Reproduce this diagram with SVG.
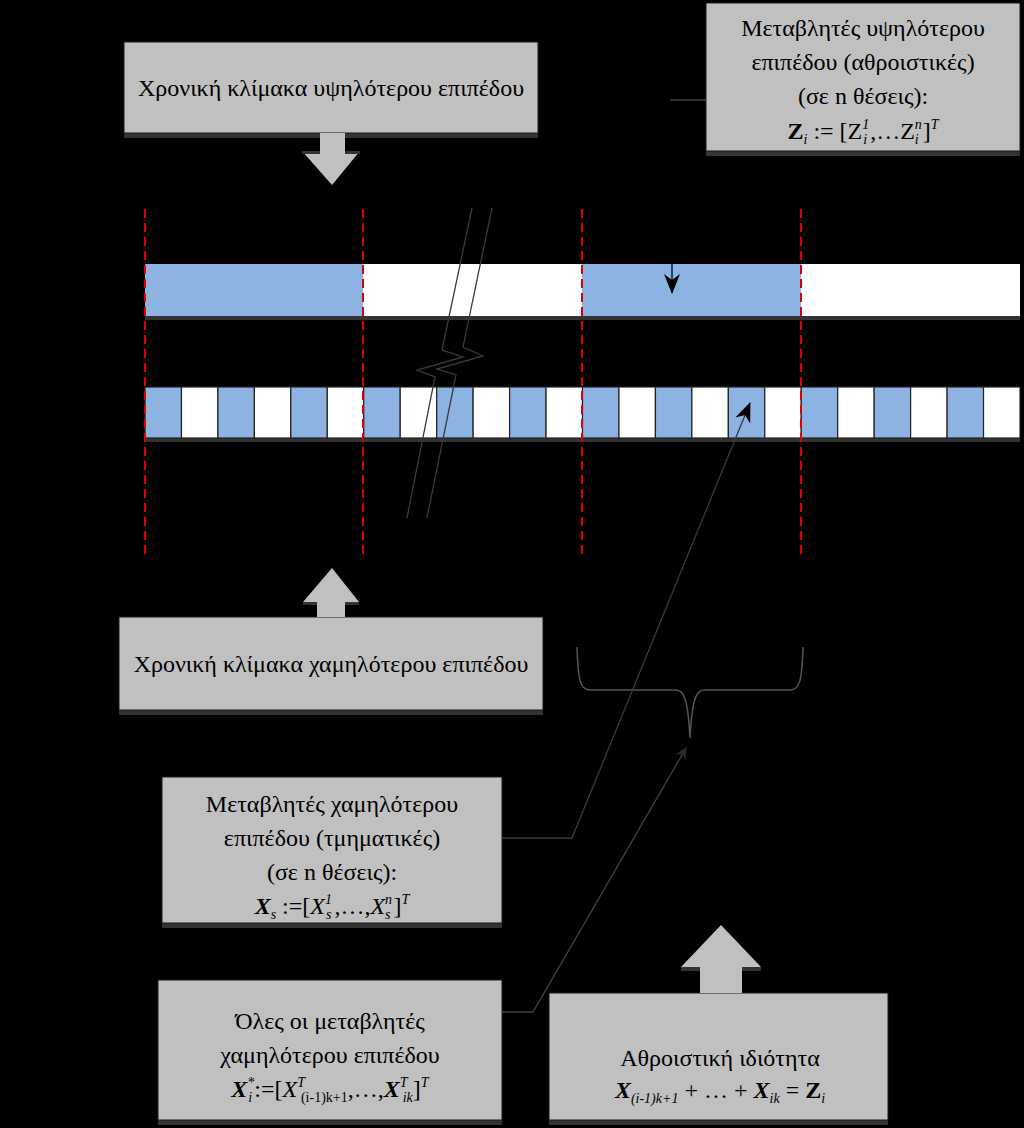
<svg xmlns="http://www.w3.org/2000/svg" width="1024" height="1128" viewBox="0 0 1024 1128">
<style>
.box{fill:#c0c0c0;stroke:#1a1a1a;stroke-width:1}
.shadow{fill:#333333}
text{font-family:'Liberation Serif','DejaVu Serif',serif;font-size:24px;fill:#000;text-anchor:middle}
.sub{font-size:14px}
.blue{fill:#8db3e2;stroke:#222;stroke-width:1.2}
.white{fill:#ffffff;stroke:#222;stroke-width:1.2}
.red{stroke:#e00000;stroke-width:2;stroke-dasharray:9 5;fill:none}
.conn{stroke:#404040;stroke-width:1.3;fill:none}
.brk{stroke:#3a3a3a;stroke-width:1.3;fill:none}
</style>
<defs>
<marker id="ah" viewBox="0 0 12 12" refX="11" refY="6" markerWidth="12" markerHeight="12" markerUnits="userSpaceOnUse" orient="auto">
<path d="M0,0 L12,6 L0,12 L4,6 z" fill="#2a2a2a"/>
</marker>
<marker id="ahb" viewBox="0 0 20 16" refX="19" refY="8" markerWidth="20" markerHeight="16" markerUnits="userSpaceOnUse" orient="auto">
<path d="M0,0 L20,8 L0,16 L6,8 z" fill="#000"/>
</marker>
</defs>
<rect x="0" y="0" width="1024" height="1128" fill="#000"/>

<g id="upper-bar">
<rect x="145" y="316" width="875" height="4" class="shadow"/>
<rect x="145" y="264" width="218" height="52" fill="#8db3e2"/>
<rect x="363" y="264" width="219" height="52" fill="#ffffff"/>
<rect x="582" y="264" width="219" height="52" fill="#8db3e2"/>
<rect x="801" y="264" width="219" height="52" fill="#ffffff"/>
</g>

<g id="lower-bar">
<rect x="145" y="438" width="875" height="4" class="shadow"/>
<rect x="145" y="387" width="36.46" height="51" class="blue"/>
<rect x="181.46" y="387" width="36.46" height="51" class="white"/>
<rect x="217.92" y="387" width="36.46" height="51" class="blue"/>
<rect x="254.38" y="387" width="36.46" height="51" class="white"/>
<rect x="290.83" y="387" width="36.46" height="51" class="blue"/>
<rect x="327.29" y="387" width="36.46" height="51" class="white"/>
<rect x="363.75" y="387" width="36.46" height="51" class="blue"/>
<rect x="400.21" y="387" width="36.46" height="51" class="white"/>
<rect x="436.67" y="387" width="36.46" height="51" class="blue"/>
<rect x="473.13" y="387" width="36.46" height="51" class="white"/>
<rect x="509.58" y="387" width="36.46" height="51" class="blue"/>
<rect x="546.04" y="387" width="36.46" height="51" class="white"/>
<rect x="582.5" y="387" width="36.46" height="51" class="blue"/>
<rect x="618.96" y="387" width="36.46" height="51" class="white"/>
<rect x="655.42" y="387" width="36.46" height="51" class="blue"/>
<rect x="691.88" y="387" width="36.46" height="51" class="white"/>
<rect x="728.33" y="387" width="36.46" height="51" class="blue"/>
<rect x="764.79" y="387" width="36.46" height="51" class="white"/>
<rect x="801.25" y="387" width="36.46" height="51" class="blue"/>
<rect x="837.71" y="387" width="36.46" height="51" class="white"/>
<rect x="874.17" y="387" width="36.46" height="51" class="blue"/>
<rect x="910.63" y="387" width="36.46" height="51" class="white"/>
<rect x="947.08" y="387" width="36.46" height="51" class="blue"/>
<rect x="983.54" y="387" width="36.46" height="51" class="white"/>
</g>

<g id="dividers">
<line x1="145" y1="209" x2="145" y2="558" class="red"/>
<line x1="363" y1="209" x2="363" y2="558" class="red"/>
<line x1="582" y1="209" x2="582" y2="558" class="red"/>
<line x1="801" y1="209" x2="801" y2="558" class="red"/>
</g>

<g id="break-mark">
<polyline class="brk" points="472,208 442,350 463,357 417,370 435,377 407,518"/>
<polyline class="brk" points="492,208 463,347 483,356 437,369 456,375 427,518"/>
</g>

<g id="brace">
<path d="M577,647 C578,680 580,690 590,690 L676,690 C684,690 688,700 690,738 C692,700 696,690 704,690 L790,690 C800,690 802,680 803,647" stroke="#555" stroke-width="1.5" fill="none"/>
</g>

<g id="node-higher-scale">
<rect x="124" y="133" width="414" height="5" class="shadow"/>
<rect x="124" y="42" width="414" height="91" class="box"/>
<path d="M320,133 L345,133 L345,151 L360,151 L332,185 L302,151 L320,151 z" fill="#c0c0c0"/>
<rect x="302" y="151" width="18" height="3" class="shadow"/>
<rect x="345" y="151" width="15" height="3" class="shadow"/>
<text x="331" y="96">Χρονική κλίμακα υψηλότερου επιπέδου</text>
</g>

<g id="node-higher-vars">
<rect x="706" y="151" width="314" height="5" class="shadow"/>
<rect x="706" y="3" width="314" height="148" class="box"/>
<text x="863" y="36">Μεταβλητές υψηλότερου</text>
<text x="863" y="70">επιπέδου (αθροιστικές)</text>
<text x="863" y="104">(σε n θέσεις):</text>
<text x="863" y="139"><tspan font-weight="bold">Z</tspan><tspan class="sub" font-style="italic" dy="5">i</tspan><tspan dy="-5"> := [Z</tspan><tspan class="sub" font-style="italic" dy="-10">1</tspan><tspan class="sub" font-style="italic" dx="-6" dy="15">i</tspan><tspan dx="3" dy="-5">,…Z</tspan><tspan class="sub" font-style="italic" dy="-10">n</tspan><tspan class="sub" font-style="italic" dx="-7" dy="15">i</tspan><tspan dx="4" dy="-5">]</tspan><tspan class="sub" font-style="italic" dy="-10">T</tspan></text>
</g>

<g id="node-lower-scale">
<rect x="119" y="710" width="424" height="5" class="shadow"/>
<rect x="119" y="617" width="424" height="93" class="box"/>
<path d="M317,617 L345,617 L345,602 L359,602 L332,568 L303,602 L317,602 z" fill="#c0c0c0"/>
<rect x="303" y="602" width="14" height="3" class="shadow"/>
<rect x="345" y="602" width="14" height="3" class="shadow"/>
<text x="331" y="672">Χρονική κλίμακα χαμηλότερου επιπέδου</text>
</g>

<g id="node-lower-vars">
<rect x="162" y="923" width="340" height="5" class="shadow"/>
<rect x="162" y="777" width="340" height="146" class="box"/>
<text x="332" y="812">Μεταβλητές χαμηλότερου</text>
<text x="332" y="846">επιπέδου (τμηματικές)</text>
<text x="332" y="880">(σε n θέσεις):</text>
<text x="332" y="914"><tspan font-weight="bold" font-style="italic">X</tspan><tspan class="sub" font-style="italic" dy="5">s</tspan><tspan dy="-5"> :=[</tspan><tspan font-style="italic">X</tspan><tspan class="sub" font-style="italic" dy="-10">1</tspan><tspan class="sub" font-style="italic" dx="-6" dy="15">s</tspan><tspan dx="3" dy="-5">,…,</tspan><tspan font-style="italic">X</tspan><tspan class="sub" font-style="italic" dy="-10">n</tspan><tspan class="sub" font-style="italic" dx="-7" dy="15">s</tspan><tspan dx="3" dy="-5">]</tspan><tspan class="sub" font-style="italic" dy="-10">T</tspan></text>
</g>

<g id="node-all-vars">
<rect x="158" y="1120" width="344" height="5" class="shadow"/>
<rect x="158" y="980" width="344" height="140" class="box"/>
<text x="330" y="1029">Όλες οι μεταβλητές</text>
<text x="330" y="1063">χαμηλότερου επιπέδου</text>
<text x="330" y="1097"><tspan font-weight="bold" font-style="italic">X</tspan><tspan class="sub" font-style="italic" dy="-10">*</tspan><tspan class="sub" font-style="italic" dx="-6" dy="15">i</tspan><tspan dx="2" dy="-5">:=[</tspan><tspan font-style="italic">X</tspan><tspan class="sub" font-style="italic" dy="-10">T</tspan><tspan class="sub" dx="-4" dy="15">(i-1)k+1</tspan><tspan dy="-5">,…,</tspan><tspan font-weight="bold" font-style="italic">X</tspan><tspan class="sub" font-style="italic" dy="-10">T</tspan><tspan class="sub" font-style="italic" dx="-4" dy="15">ik</tspan><tspan dy="-5">]</tspan><tspan class="sub" font-style="italic" dy="-10">T</tspan></text>
</g>

<g id="node-additive">
<rect x="549" y="1120" width="339" height="5" class="shadow"/>
<rect x="549" y="993" width="339" height="127" class="box"/>
<path d="M700,993 L742,993 L742,967 L761,967 L721,925 L681,967 L700,967 z" fill="#c0c0c0"/>
<rect x="681" y="967" width="19" height="4" class="shadow"/>
<rect x="742" y="967" width="19" height="4" class="shadow"/>
<text x="720" y="1066">Αθροιστική ιδιότητα</text>
<text x="720" y="1098"><tspan font-weight="bold" font-style="italic">X</tspan><tspan class="sub" font-style="italic" dy="5">(i-1)k+1</tspan><tspan dy="-5"> + … + </tspan><tspan font-weight="bold" font-style="italic">X</tspan><tspan class="sub" font-style="italic" dy="5">ik</tspan><tspan dy="-5"> = </tspan><tspan font-weight="bold">Z</tspan><tspan class="sub" font-style="italic" dy="5">i</tspan></text>
</g>

<g id="connectors">
<line x1="670" y1="100" x2="706" y2="100" class="conn"/>
<line x1="672" y1="264" x2="672" y2="293" stroke="#000" stroke-width="1.3" marker-end="url(#ahb)"/>
<polyline points="502,838 572,838 750,403" stroke="#3a3a3a" stroke-width="1.3" fill="none" marker-end="url(#ahb)"/>
<polyline points="502,1012 533,1012 686,748" class="conn" marker-end="url(#ah)"/>
</g>
</svg>
